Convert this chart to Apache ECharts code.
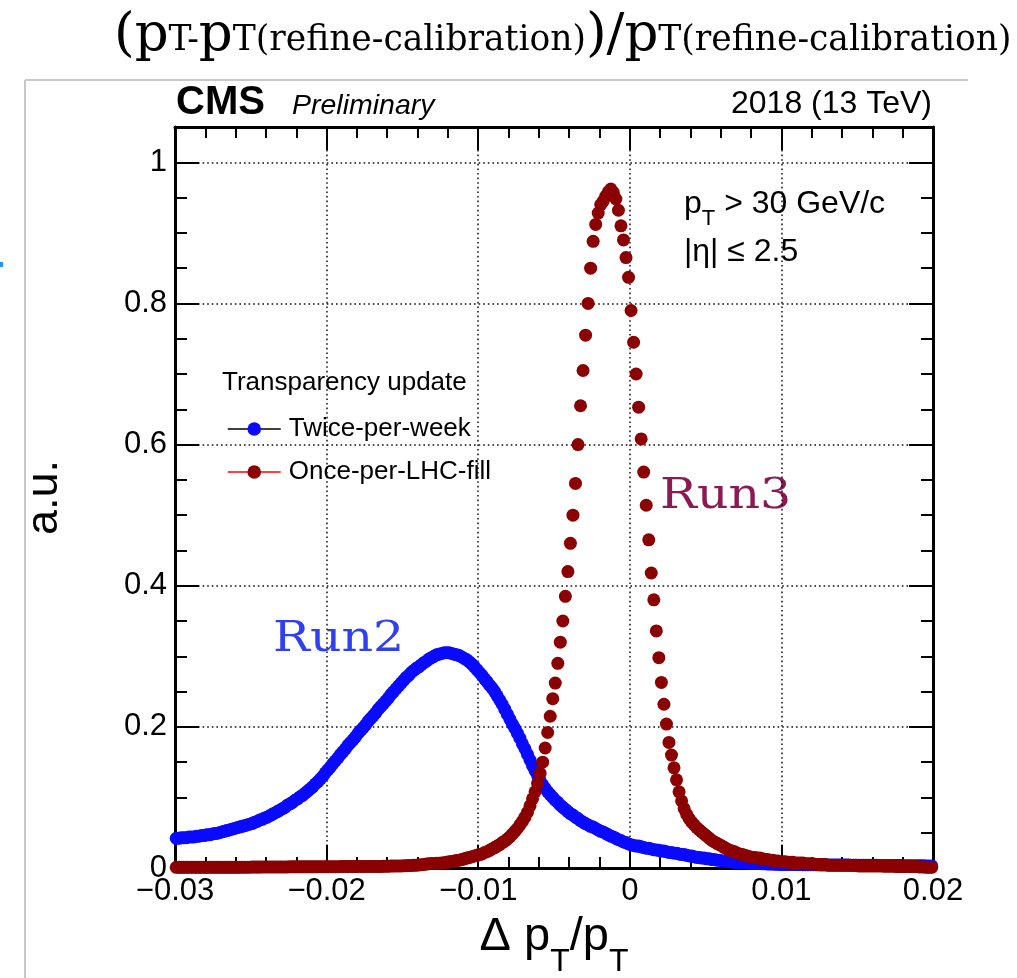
<!DOCTYPE html>
<html>
<head>
<meta charset="utf-8">
<script src="https://cdn.jsdelivr.net/npm/echarts@6/dist/echarts.min.js"></script>
<style>html,body{margin:0;padding:0;background:#fff;}#c{width:1017px;height:978px;}</style>
</head>
<body>
<div id="c"></div>
<script>
// Histogram definition (300 bins from -0.03 to 0.02)
const X_START = -0.03;
const X_END = 0.02;
const N_BINS = 300;

const xTickLabels = ['-0.03', '-0.02', '-0.01', '0', '0.01', '0.02'];
const yTickLabels = ['0', '0.2', '0.4', '0.6', '0.8', '1'];
const seriesNames = ['Twice-per-week', 'Once-per-LHC-fill'];

// Twice-per-week (Run2) bin contents
const twicePerWeek = [
0.042,0.042,0.043,0.043,0.043,0.044,0.044,0.044,0.045,0.045,
0.046,0.046,0.047,0.047,0.048,0.049,0.049,0.050,0.051,0.052,
0.053,0.054,0.055,0.056,0.057,0.058,0.059,0.060,0.061,0.062,
0.063,0.065,0.066,0.068,0.069,0.071,0.072,0.074,0.076,0.078,
0.080,0.082,0.084,0.086,0.089,0.091,0.093,0.096,0.098,0.101,
0.103,0.106,0.109,0.112,0.115,0.119,0.122,0.126,0.130,0.135,
0.139,0.143,0.148,0.152,0.156,0.161,0.165,0.169,0.174,0.178,
0.182,0.186,0.191,0.195,0.199,0.203,0.208,0.212,0.216,0.220,
0.225,0.229,0.233,0.237,0.241,0.246,0.250,0.254,0.258,0.262,
0.266,0.270,0.273,0.277,0.280,0.283,0.285,0.288,0.291,0.293,
0.296,0.298,0.300,0.302,0.303,0.304,0.305,0.305,0.305,0.304,
0.303,0.302,0.301,0.299,0.297,0.295,0.292,0.289,0.285,0.281,
0.277,0.273,0.268,0.264,0.259,0.255,0.250,0.244,0.238,0.232,
0.225,0.218,0.211,0.204,0.198,0.191,0.184,0.176,0.169,0.161,
0.153,0.145,0.138,0.131,0.124,0.118,0.113,0.108,0.104,0.100,
0.096,0.093,0.089,0.086,0.083,0.080,0.077,0.075,0.072,0.070,
0.067,0.065,0.063,0.061,0.059,0.058,0.056,0.054,0.052,0.051,
0.049,0.047,0.045,0.044,0.042,0.040,0.039,0.037,0.036,0.034,
0.033,0.032,0.031,0.031,0.030,0.029,0.028,0.028,0.027,0.026,
0.0255,0.025,0.024,0.024,0.023,0.022,0.022,0.021,0.021,0.020,
0.019,0.019,0.018,0.017,0.017,0.016,0.015,0.015,0.014,0.014,
0.013,0.013,0.012,0.012,0.011,0.011,0.010,0.010,0.009,0.009,
0.0085,0.008,0.008,0.0077,0.0074,0.0071,0.0069,0.0068,0.0066,0.0065,
0.0063,0.0062,0.0060,0.0059,0.0058,0.0056,0.0055,0.0054,0.0052,0.0051,
0.005,0.005,0.005,0.005,0.0049,0.0049,0.0048,0.0048,0.0047,0.0047,
0.0046,0.0046,0.0046,0.0045,0.0045,0.0044,0.0044,0.0044,0.0043,0.0043,
0.0043,0.0042,0.0042,0.0042,0.0041,0.0041,0.0041,0.0040,0.0040,0.0040,
0.004,0.004,0.0039,0.0039,0.0039,0.0038,0.0038,0.0038,0.0037,0.0037,
0.0036,0.0036,0.0036,0.0035,0.0035,0.0034,0.0034,0.0034,0.0033,0.0033,
0.0033,0.0032,0.0032,0.0032,0.0031,0.0031,0.0031,0.0030,0.0030,0.0030
];

// Once-per-LHC-fill (Run3) bin contents
const oncePerFill = [
0.001,0.001,0.001,0.001,0.001,0.001,0.001,0.001,0.001,0.001,
0.001,0.001,0.001,0.001,0.001,0.001,0.001,0.001,0.001,0.001,
0.001,0.001,0.001,0.001,0.001,0.001,0.0012,0.0012,0.0012,0.0012,
0.0013,0.0013,0.0013,0.0013,0.0014,0.0014,0.0014,0.0014,0.0015,0.0015,
0.0015,0.0015,0.0015,0.0015,0.0015,0.0016,0.0016,0.0016,0.0016,0.0016,
0.0016,0.0017,0.0017,0.0017,0.0017,0.0017,0.0018,0.0018,0.0018,0.0018,
0.0018,0.0019,0.0019,0.0019,0.0019,0.002,0.002,0.002,0.002,0.002,
0.002,0.002,0.0021,0.0021,0.0021,0.0021,0.0022,0.0022,0.0022,0.0022,
0.0022,0.0023,0.0024,0.0025,0.0026,0.0027,0.0028,0.0029,0.003,0.003,
0.0031,0.0032,0.0034,0.0036,0.0038,0.004,0.0043,0.0046,0.005,0.0055,
0.006,0.0062,0.0064,0.0066,0.0068,0.007,0.0075,0.008,0.0087,0.0093,
0.010,0.0105,0.011,0.012,0.013,0.014,0.015,0.016,0.017,0.018,
0.019,0.020,0.022,0.023,0.025,0.027,0.029,0.031,0.033,0.036,
0.038,0.041,0.044,0.048,0.052,0.056,0.061,0.066,0.072,0.079,
0.088,0.098,0.108,0.120,0.134,0.150,0.170,0.192,0.215,0.240,
0.262,0.290,0.320,0.350,0.385,0.420,0.460,0.500,0.545,0.600,
0.655,0.705,0.755,0.800,0.850,0.888,0.912,0.928,0.940,0.945,
0.952,0.958,0.962,0.957,0.948,0.932,0.910,0.890,0.865,0.837,
0.790,0.745,0.700,0.653,0.608,0.561,0.514,0.465,0.418,0.380,
0.336,0.298,0.263,0.232,0.204,0.178,0.160,0.142,0.125,0.108,
0.095,0.084,0.076,0.070,0.065,0.061,0.057,0.054,0.051,0.048,
0.045,0.042,0.039,0.037,0.035,0.033,0.031,0.029,0.027,0.025,
0.024,0.023,0.021,0.020,0.019,0.018,0.017,0.016,0.015,0.015,
0.014,0.014,0.013,0.012,0.012,0.011,0.011,0.010,0.010,0.009,
0.009,0.009,0.008,0.008,0.008,0.007,0.007,0.007,0.007,0.006,
0.006,0.006,0.006,0.005,0.005,0.005,0.005,0.005,0.004,0.004,
0.004,0.004,0.004,0.004,0.004,0.004,0.004,0.004,0.004,0.004,
0.003,0.003,0.003,0.003,0.003,0.003,0.003,0.003,0.003,0.003,
0.0025,0.0025,0.0025,0.0025,0.0025,0.002,0.002,0.002,0.002,0.002,
0.002,0.002,0.002,0.002,0.0015,0.0015,0.0015,0.001,0.001,0.001
];

const BIN_W = (X_END - X_START) / N_BINS;
function toPoints(vals) {
  return vals.map((v, i) => [X_START + (i + 0.5) * BIN_W, v]);
}

const chart = echarts.init(document.getElementById('c'), null, {renderer: 'canvas'});
const SANS = 'Liberation Sans';
const SERIF = 'DejaVu Serif';

// text measurement helper for composed labels with subscripts
const mctx = document.createElement('canvas').getContext('2d');
function tw(text, size, family) {
  mctx.font = size + 'px "' + family + '"';
  return mctx.measureText(text).width;
}
// Baseline-positioned text pieces (Liberation Sans: middle is ~0.3465em above baseline)
function piecesAt(pieces, startX, family) {
  const out = [];
  let x = startX;
  pieces.forEach(p => {
    out.push({
      type: 'text', x: x, y: p.base - 0.3465 * p.size, silent: true,
      style: {text: p.text, fontSize: p.size, fontFamily: family, fill: '#000', verticalAlign: 'middle', align: 'left'}
    });
    x += tw(p.text, p.size, family);
  });
  return out;
}
function piecesWidth(pieces, family) {
  return pieces.reduce((s, p) => s + tw(p.text, p.size, family), 0);
}

function xFmt(v) {
  const r = Math.round(v * 100);
  const s = xTickLabels[r + 3];
  if (s === undefined) return '';
  return s.replace('-', '\u2212');
}
function yFmt(v) {
  const r = Math.round(v * 5);
  if (Math.abs(v * 5 - r) > 1e-6) return '';
  return yTickLabels[r] !== undefined ? yTickLabels[r] : '';
}

const tickStyle = {color: '#000', width: 2};
const axisLineStyle = {color: '#000', width: 3};
const gridLineStyle = {type: [1.6, 3], color: '#111', width: 1.5};

// x-axis title  "Δ p_T / p_T"
const xNamePieces = [
  {text: '\u0394 p', size: 47, base: 953},
  {text: 'T', size: 32, base: 973},
  {text: '/p', size: 47, base: 953},
  {text: 'T', size: 32, base: 973}
];
const xNameW = piecesWidth(xNamePieces, SANS);
const xNameEls = piecesAt(xNamePieces, 554 - xNameW / 2, SANS);

// pT cut label
const ptPieces = [
  {text: 'p', size: 32, base: 215},
  {text: 'T', size: 22, base: 227},
  {text: ' > 30 GeV/c', size: 32, base: 215}
];
const ptEls = piecesAt(ptPieces, 684, SANS);

const option = {
  animation: false,
  backgroundColor: '#fff',
  grid: {left: 175, right: 84, top: 127, bottom: 110, containLabel: false, outerBoundsMode: 'none'},
  xAxis: [
    {
      type: 'value', position: 'bottom', min: -0.03, max: 0.02, interval: 0.01,
      axisLine: {show: true, onZero: false, lineStyle: axisLineStyle},
      axisTick: {show: true, inside: true, length: 23, lineStyle: tickStyle},
      minorTick: {show: true, splitNumber: 5, length: 11, lineStyle: tickStyle},
      axisLabel: {show: true, fontSize: 31, fontFamily: SANS, color: '#000', margin: 8, formatter: xFmt},
      splitLine: {show: true, lineStyle: gridLineStyle}
    },
    {
      type: 'value', position: 'top', min: -0.03, max: 0.02, interval: 0.01,
      axisLine: {show: true, onZero: false, lineStyle: axisLineStyle},
      axisTick: {show: true, inside: true, length: 23, lineStyle: tickStyle},
      minorTick: {show: true, splitNumber: 5, length: 11, lineStyle: tickStyle},
      axisLabel: {show: false}, splitLine: {show: false}
    }
  ],
  yAxis: [
    {
      type: 'value', position: 'left', min: 0, max: 1.05, interval: 0.2,
      axisLine: {show: true, onZero: false, lineStyle: axisLineStyle},
      axisTick: {show: true, inside: true, length: 24, lineStyle: tickStyle},
      axisLabel: {show: true, fontSize: 31, fontFamily: SANS, color: '#000', margin: 8, showMaxLabel: false, formatter: yFmt},
      splitLine: {show: true, lineStyle: gridLineStyle},
      name: 'a.u.', nameLocation: 'middle', nameRotate: 90, nameGap: 108,
      nameTextStyle: {fontSize: 45, fontFamily: SANS, color: '#000'}
    },
    {
      type: 'value', position: 'left', min: 0, max: 1.05, interval: 0.05,
      axisLine: {show: false, onZero: false},
      axisTick: {show: true, inside: true, length: 12, lineStyle: tickStyle},
      axisLabel: {show: false}, splitLine: {show: false}
    },
    {
      type: 'value', position: 'right', min: 0, max: 1.05, interval: 0.2,
      axisLine: {show: true, onZero: false, lineStyle: axisLineStyle},
      axisTick: {show: true, inside: true, length: 24, lineStyle: tickStyle},
      axisLabel: {show: false}, splitLine: {show: false}
    },
    {
      type: 'value', position: 'right', min: 0, max: 1.05, interval: 0.05,
      axisLine: {show: false, onZero: false},
      axisTick: {show: true, inside: true, length: 12, lineStyle: tickStyle},
      axisLabel: {show: false}, splitLine: {show: false}
    }
  ],
  legend: {
    orient: 'vertical', left: 222, top: 411, itemWidth: 53, itemHeight: 17, itemGap: 17,
    selectedMode: false,
    textStyle: {fontSize: 26, fontFamily: SANS, color: '#000', padding: [0, 0, 0, 3]},
    data: [
      {name: seriesNames[0], itemStyle: {color: '#0a0aff'}, lineStyle: {color: '#000', width: 1.5, opacity: 1}},
      {name: seriesNames[1], itemStyle: {color: '#8b0000'}, lineStyle: {color: '#ff0000', width: 1.5, opacity: 1}}
    ]
  },
  series: [
    {
      type: 'line', name: seriesNames[0], data: toPoints(twicePerWeek),
      symbol: 'circle', symbolSize: 13, showSymbol: true, showAllSymbol: true,
      lineStyle: {width: 0}, itemStyle: {color: '#0a0aff'}, clip: false, silent: true, z: 2,
      emphasis: {disabled: true}
    },
    {
      type: 'line', name: seriesNames[1], data: toPoints(oncePerFill),
      symbol: 'circle', symbolSize: 13, showSymbol: true, showAllSymbol: true,
      lineStyle: {width: 0}, itemStyle: {color: '#8b0000'}, clip: false, silent: true, z: 3,
      emphasis: {disabled: true}
    }
  ],
  graphic: [
    {type: 'line', shape: {x1: 25, y1: 80, x2: 968, y2: 80}, style: {stroke: '#c8c8c8', lineWidth: 2}, silent: true},
    {type: 'line', shape: {x1: 25, y1: 80, x2: 25, y2: 978}, style: {stroke: '#c8c8c8', lineWidth: 2}, silent: true},
    {type: 'rect', shape: {x: 0, y: 262, width: 3, height: 5}, style: {fill: '#2196f3'}, silent: true},
    {
      type: 'text', x: 114, y: 10, silent: true,
      style: {
        text: '{b|(p}{s|T-}{b|p}{s|T(refine-calibration)}{b|)/p}{s|T(refine-calibration)}',
        fill: '#000', verticalAlign: 'top',
        rich: {
          b: {fontSize: 53, fontFamily: SERIF, lineHeight: 53, verticalAlign: 'bottom'},
          s: {fontSize: 34.5, fontFamily: SERIF, lineHeight: 34, verticalAlign: 'bottom', padding: [0, 0, 4, 0]}
        }
      }
    },
    {type: 'text', x: 176, y: 102.5, silent: true, style: {text: 'CMS', fontSize: 40, fontWeight: 'bold', fontFamily: SANS, fill: '#000', verticalAlign: 'middle'}},
    {type: 'text', x: 292, y: 106.5, silent: true, style: {text: 'Preliminary', fontSize: 28.5, fontStyle: 'italic', fontFamily: SANS, fill: '#000', verticalAlign: 'middle'}},
    {type: 'text', x: 932, y: 104.5, silent: true, style: {text: '2018 (13 TeV)', fontSize: 32, fontFamily: SANS, fill: '#000', align: 'right', verticalAlign: 'middle'}},
    {type: 'text', x: 684, y: 252.5, silent: true, style: {text: '|\u03b7| \u2264 2.5', fontSize: 32, fontFamily: SANS, fill: '#000', verticalAlign: 'middle'}},
    {type: 'text', x: 222, y: 382.5, silent: true, style: {text: 'Transparency update', fontSize: 26, fontFamily: SANS, fill: '#000', verticalAlign: 'middle'}},
    {type: 'text', x: 273, y: 640, scaleX: 1.14, silent: true, style: {text: 'Run2', fontSize: 43, fontFamily: SERIF, fill: '#3040ee', verticalAlign: 'middle'}},
    {type: 'text', x: 660, y: 497, scaleX: 1.14, silent: true, style: {text: 'Run3', fontSize: 43, fontFamily: SERIF, fill: '#8a1b52', verticalAlign: 'middle'}}
  ].concat(xNameEls, ptEls)
};
chart.setOption(option);
</script>
</body>
</html>
